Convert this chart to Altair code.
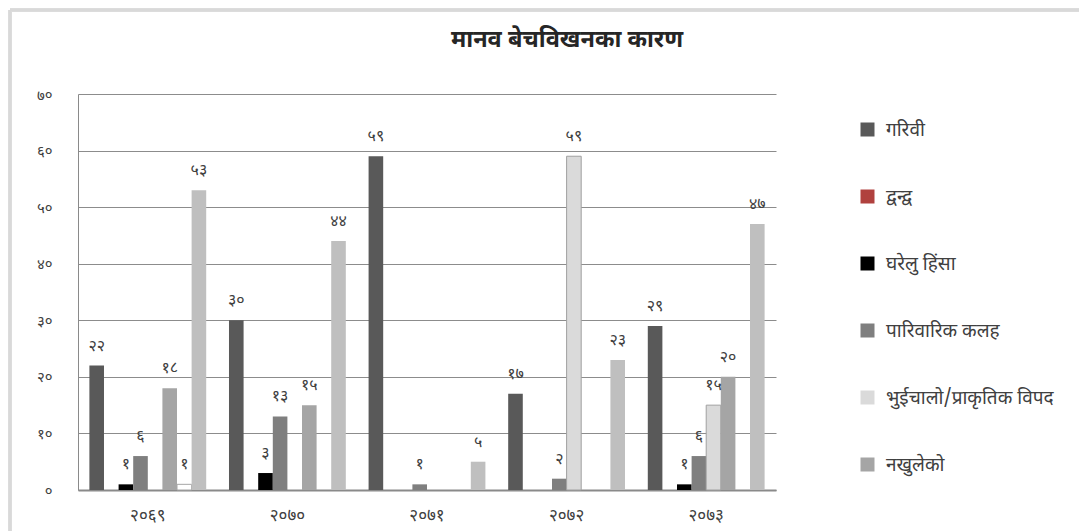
import altair as alt
import pandas as pd

# ---- data ----
years = ["२०६९", "२०७०", "२०७१", "२०७२", "२०७३"]
series = ["गरिवी", "द्वन्द्व", "घरेलु हिंसा", "पारिवारिक कलह",
          "भुईचालो/प्राकृतिक विपद", "नखुलेको", "अन्य-१", "अन्य-२"]
garibi = [22, 30, 59, 17, 29]
dwandwa = [0, 0, 0, 0, 0]
gharelu_hinsa = [1, 3, 0, 0, 1]
pariwarik_kalah = [6, 13, 1, 2, 6]
bhuichalo = [0, 0, 0, 59, 15]
nakhuleko = [18, 15, 0, 0, 20]
anya1 = [1, 0, 0, 0, 0]
anya2 = [53, 44, 5, 23, 47]
y_ticks = [0, 10, 20, 30, 40, 50, 60, 70]
y_tick_labels = ["०", "१०", "२०", "३०", "४०", "५०", "६०", "७०"]
legend_shown = series[:6]
title_text = "मानव बेचविखनका कारण"

fills = ["#595959", "#b0413e", "#000000", "#7f7f7f", "#dadada", "#a5a5a5", "#ffffff", "#bfbfbf"]
strokes = ["transparent", "transparent", "transparent", "transparent", "#a0a0a0", "transparent", "#a6a6a6", "transparent"]

DEV = str.maketrans("0123456789", "०१२३४५६७८९")

rows = []
for s, vals in zip(series, [garibi, dwandwa, gharelu_hinsa, pariwarik_kalah,
                            bhuichalo, nakhuleko, anya1, anya2]):
    for yr, v in zip(years, vals):
        if v > 0:
            rows.append({"year": yr, "series": s, "value": v,
                         "label": str(v).translate(DEV)})
df = pd.DataFrame(rows)

FONT = "Noto Sans Devanagari, Lohit Devanagari, Noto Sans, sans-serif"
label_expr = "[" + ",".join("'%s'" % t for t in y_tick_labels) + "][datum.value/10]"

x_enc = alt.X("year:N", sort=years, title=None,
              scale=alt.Scale(paddingInner=0, paddingOuter=0),
              axis=alt.Axis(labelAngle=0, ticks=False, tickSize=0, labelPadding=17,
                            domainColor="#8a8a8a", domainWidth=2,
                            labelFontSize=17, labelColor="#404040", labelFont=FONT))
xoff = alt.XOffset("series:N", sort=series,
                   scale=alt.Scale(domain=series, paddingInner=0, paddingOuter=0.78))
y_enc = alt.Y("value:Q", title=None,
              scale=alt.Scale(domain=[0, 70], nice=False),
              axis=alt.Axis(values=y_ticks, labelExpr=label_expr, ticks=False, tickSize=0,
                            labelPadding=26, grid=True, gridColor="#8c8c8c",
                            domainColor="#8a8a8a", labelFontSize=15, labelColor="#404040",
                            labelFont=FONT))

bars = alt.Chart(df).mark_bar(strokeWidth=1).encode(
    x=x_enc, xOffset=xoff, y=y_enc,
    fill=alt.Fill("series:N",
                  scale=alt.Scale(domain=series, range=fills),
                  legend=alt.Legend(title=None, values=legend_shown, orient="none",
                                    legendX=780, legendY=26, symbolType="square",
                                    symbolSize=196, symbolStrokeWidth=0,
                                    labelFontSize=19, labelColor="#404040",
                                    labelFont=FONT, rowPadding=47, labelOffset=9,
                                    padding=0, labelLimit=400)),
    stroke=alt.Stroke("series:N", scale=alt.Scale(domain=series, range=strokes), legend=None),
)

labels = alt.Chart(df).mark_text(dy=-20, fontSize=16, color="#404040", font=FONT).encode(
    x=alt.X("year:N", sort=years), xOffset=xoff,
    y=alt.Y("value:Q"), text="label:N")

frame_top = alt.Chart(df).mark_rule(color="#d9d9d9", strokeWidth=2.5).encode(
    x=alt.value(-68), x2=alt.value(1010), y=alt.value(-84))
frame_left = alt.Chart(df).mark_rule(color="#d9d9d9", strokeWidth=2.5).encode(
    x=alt.value(-68), y=alt.value(-84), y2=alt.value(440))

title = alt.Chart(pd.DataFrame({"t": [title_text]})).mark_text(
    fontSize=23.5, fontWeight="bold", color="#262626", font=FONT,
    align="center", baseline="middle").encode(
    x=alt.value(489), y=alt.value(-54), text="t:N")

chart = alt.layer(frame_top, frame_left, bars, labels, title).properties(
    width=698, height=396,
    autosize=alt.AutoSizeParams(type="none"),
    padding={"left": 70, "top": 86, "right": 303, "bottom": 41},
).configure_view(stroke=None).configure_axis(gridWidth=1)

chart.save("out.html", embed_options={"renderer": "svg", "actions": False})
